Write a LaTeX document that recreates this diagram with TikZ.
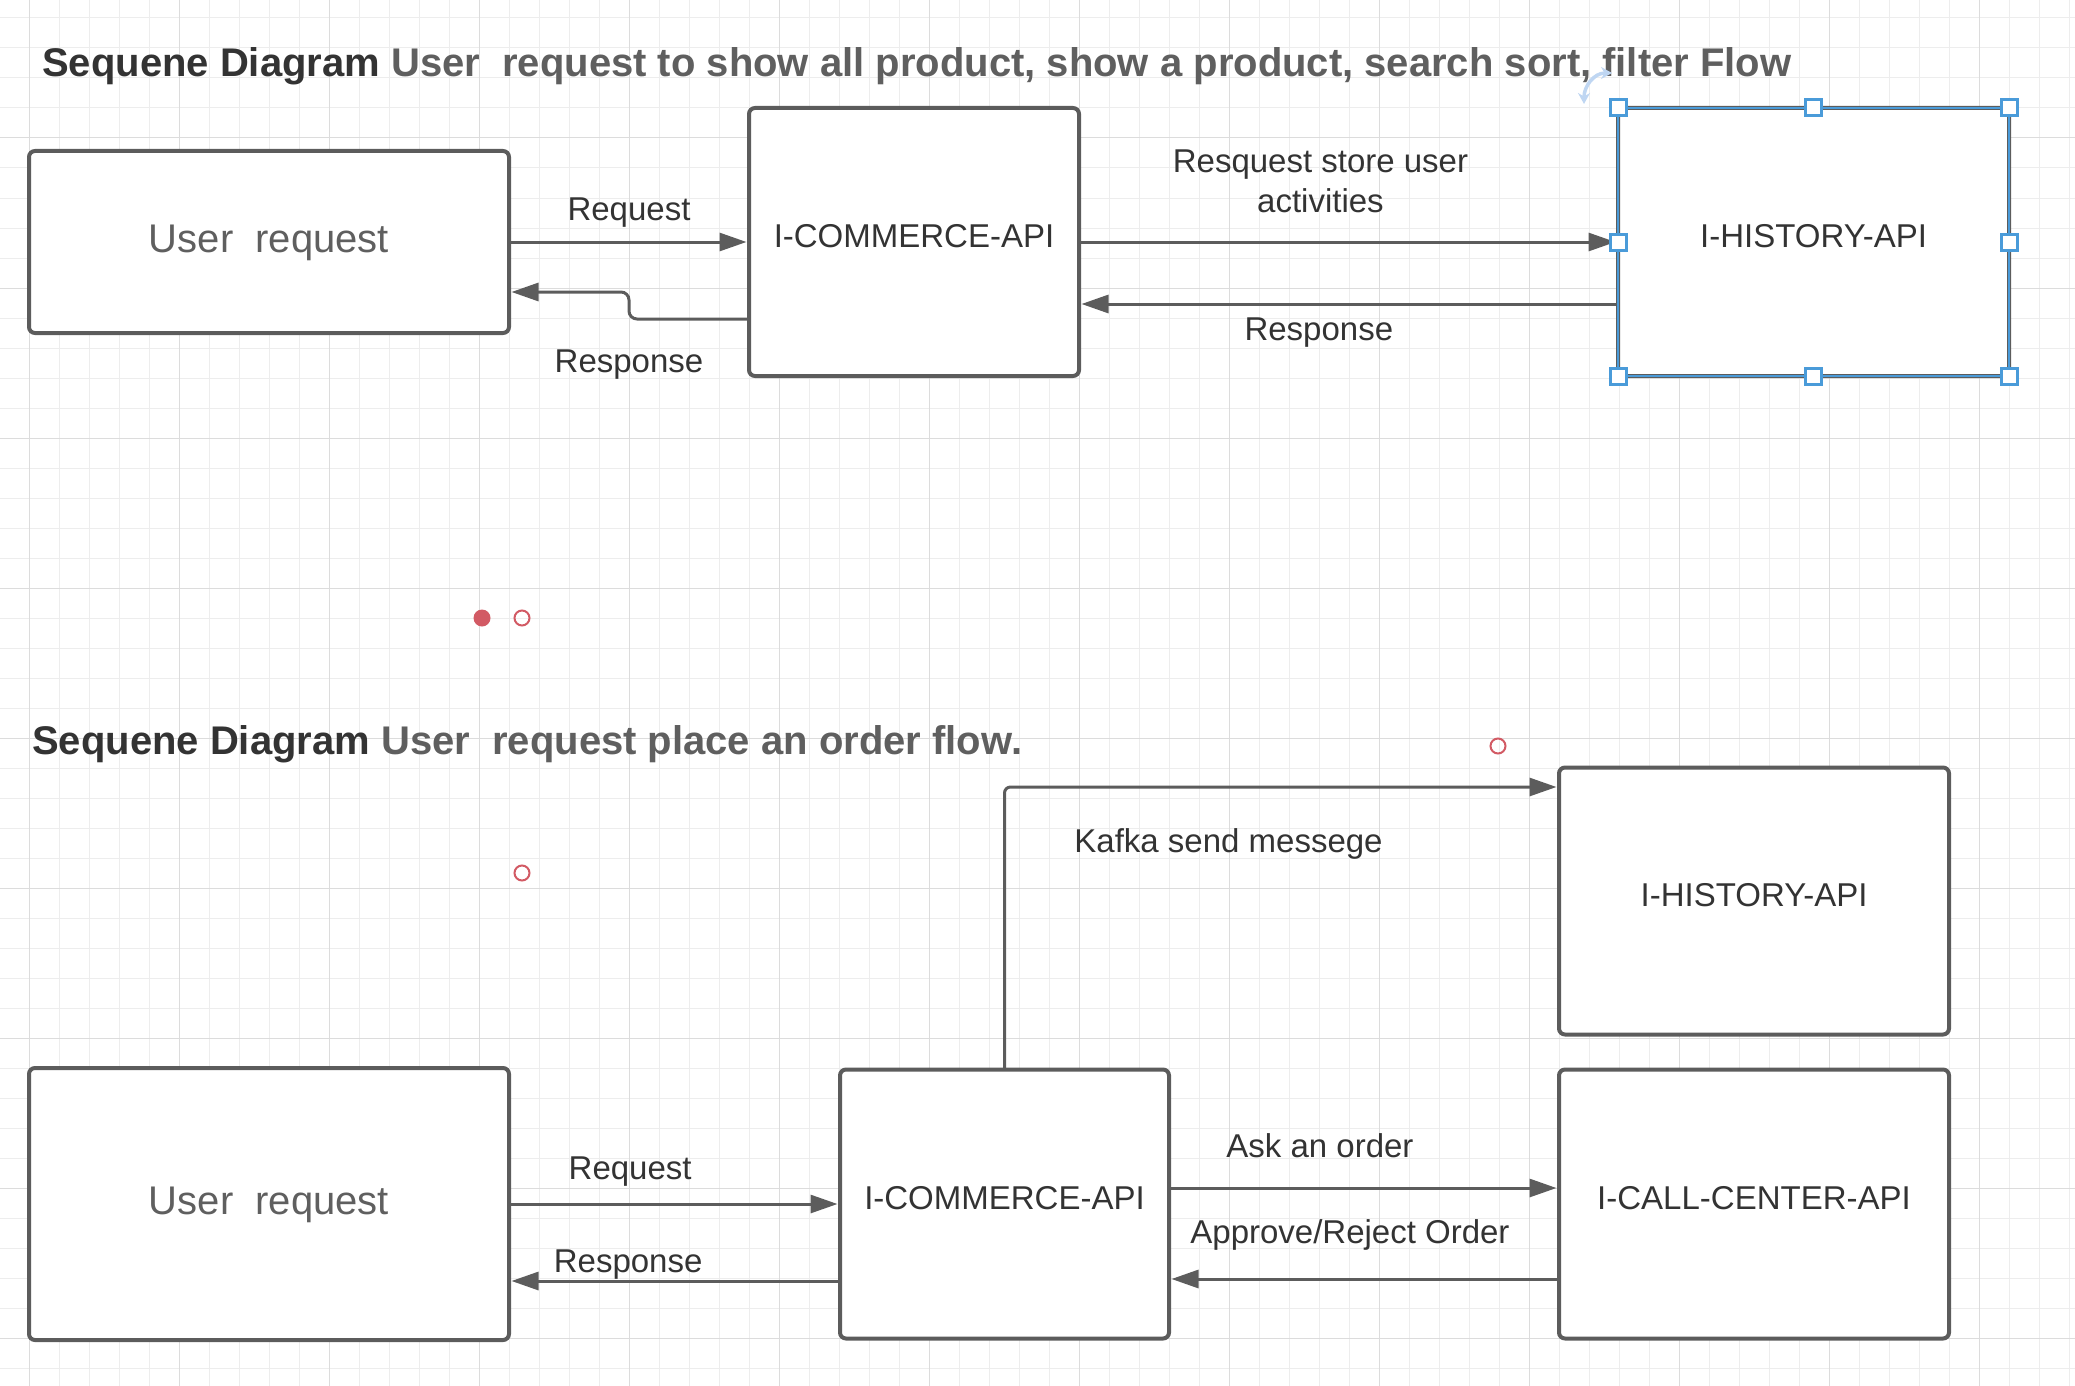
\documentclass[tikz,border=0pt]{standalone}
\usepackage{fontspec}
\setmainfont{Liberation Sans}
\usetikzlibrary{positioning, arrows.meta, calc}

\definecolor{linegray}{HTML}{5C5C5C}
\definecolor{txtdark}{HTML}{333333}
\definecolor{txtgray}{HTML}{5F5F5F}
\definecolor{gridminor}{HTML}{EDEDED}
\definecolor{gridmajor}{HTML}{DCDCDC}
\definecolor{selblue}{HTML}{4A9BD9}
\definecolor{rotblue}{HTML}{BFD6F2}
\definecolor{dotred}{HTML}{D25A64}

\begin{document}
\begin{tikzpicture}[
  x=1pt, y=-1pt,
  apibox/.style={
    rectangle, rounded corners=6pt,
    draw=linegray, line width=4pt, fill=white,
    align=center, text=txtdark, font=\fontsize{33}{40}\selectfont,
    text height=24pt, text depth=14pt,
    inner sep=0pt, outer sep=0pt
  },
  userbox/.style={
    apibox, text=txtgray, font=\fontsize{40}{48}\selectfont,
    text height=29pt, text depth=8pt,
    minimum width=480pt
  },
  lbl/.style={
    text=txtdark, font=\fontsize{33}{40}\selectfont,
    align=center, inner sep=0pt
  },
  pagetitle/.style={
    anchor=base west, inner sep=0pt,
    font=\fontsize{40}{48}\selectfont\bfseries
  },
  arr/.style={
    -{Triangle[length=27pt, width=18pt]}, line width=3pt,
    draw=linegray, shorten >=2.5pt
  },
  selhandle/.style={
    rectangle, draw=selblue, line width=3pt, fill=white,
    minimum size=16pt, inner sep=0pt
  },
  rotarr/.style={
    {Stealth[length=11pt, width=12pt]}-{Stealth[length=11pt, width=12pt]},
    line width=3.5pt, draw=rotblue
  },
  redring/.style={
    circle, draw=dotred, line width=2pt, minimum size=15pt, inner sep=0pt
  },
  reddot/.style={
    circle, fill=dotred, minimum size=17pt, inner sep=0pt
  }
]
\useasboundingbox (0,0) rectangle (2075,1386);

% ================= Grid =================
\foreach \gx in {29,59,...,2069} \draw[gridminor, line width=1pt] (\gx,0) -- (\gx,1386);
\foreach \gy in {18,48,...,1368} \draw[gridminor, line width=1pt] (0,\gy) -- (2075,\gy);
\foreach \gx in {29,179,...,1979} \draw[gridmajor, line width=1pt] (\gx,0) -- (\gx,1386);
\foreach \gy in {138,288,...,1338} \draw[gridmajor, line width=1pt] (0,\gy) -- (2075,\gy);

% ================= Flow 1: show / search products =================
\node[pagetitle] (title1) at (42,77) {\color{txtdark}Sequene Diagram \color{txtgray}User\ \ request to show all product, show a product, search sort, filter Flow};

\node[userbox, minimum height=182pt] (user1) at (269,242) {User\ \ request};
\node[apibox, minimum width=330pt, minimum height=268pt, right=240pt of user1] (commerce1) {I-COMMERCE-API};
\node[apibox, minimum width=391pt, minimum height=268pt, right=539pt of commerce1] (history1) {I-HISTORY-API};

\draw[arr] (user1) -- (commerce1) node[lbl, midway, anchor=base, yshift=22pt] (req1) {Request};
\draw[arr, rounded corners=8pt] ([yshift=-77pt]commerce1.west) -- ++(-120,0) -- ++(0,-27) -- ([yshift=-50pt]user1.east);
\node[lbl, anchor=base] (resp1) at ([yshift=-130pt]$(user1.east)!0.5!(commerce1.west)$) {Response};

\draw[arr] (commerce1) -- (history1) node[lbl, pos=0.448, anchor=south, yshift=28pt] (store1) {Resquest store user\\activities};
\draw[arr] ([yshift=-62pt]history1.west) -- ([yshift=-62pt]commerce1.east) node[lbl, pos=0.555, anchor=base, yshift=-36pt] (resp2) {Response};

% selection frame on I-HISTORY-API
\draw[selblue, line width=2.5pt] (history1.north west) rectangle (history1.south east);
\foreach \a/\n in {north west/1, north/2, north east/3, east/4, south east/5, south/6, south west/7, west/8}
  \node[selhandle] (hnd\n) at (history1.\a) {};
\coordinate (rotA) at ([shift={(-6,-35)}]hnd1.center);
\coordinate (rotB) at ([shift={(-34,-4)}]hnd1.center);
\draw[rotarr] (rotA) .. controls +(-18,0) and +(0,-18) .. (rotB);

% ================= Markers =================
\node[reddot] (dotA) at (482,618) {};
\node[redring] (ringA) at (522,618) {};
\node[redring] (ringB) at (1498,746) {};
\node[redring] (ringC) at (522,873) {};

% ================= Flow 2: place an order =================
\node[pagetitle] (title2) at (32,754) {\color{txtdark}Sequene Diagram \color{txtgray}User\ \ request place an order flow.};

\node[userbox, minimum height=272pt] (user2) at (269,1204) {User\ \ request};
\node[apibox, minimum width=329pt, minimum height=269pt, right=331pt of user2] (commerce2) {I-COMMERCE-API};
\node[apibox, minimum width=390pt, minimum height=269pt, right=390pt of commerce2] (callcenter2) {I-CALL-CENTER-API};
\node[apibox, minimum width=390pt, minimum height=267pt, above=35pt of callcenter2] (history2) {I-HISTORY-API};

\draw[arr] (user2) -- (user2 -| commerce2.west) node[lbl, pos=0.366, anchor=base, yshift=25pt] (req2) {Request};
\draw[arr] ([yshift=-77pt]commerce2.west) -- ([yshift=-77pt]user2.east) node[lbl, pos=0.64, anchor=base, yshift=9pt] (resp3) {Response};

\draw[arr, rounded corners=6pt] (commerce2.north) |- ([yshift=114pt]history2.west) node[lbl, pos=0.702, anchor=base, yshift=-65pt] (kafka2) {Kafka send messege};

\draw[arr] ([yshift=16pt]commerce2.east) -- ([yshift=16pt]callcenter2.west) node[lbl, pos=0.387, anchor=base, yshift=31pt] (ask2) {Ask an order};
\draw[arr] ([yshift=-75pt]callcenter2.west) -- ([yshift=-75pt]commerce2.east) node[lbl, pos=0.536, anchor=base, yshift=36pt] (appr2) {Approve/Reject Order};

\end{tikzpicture}
\end{document}
